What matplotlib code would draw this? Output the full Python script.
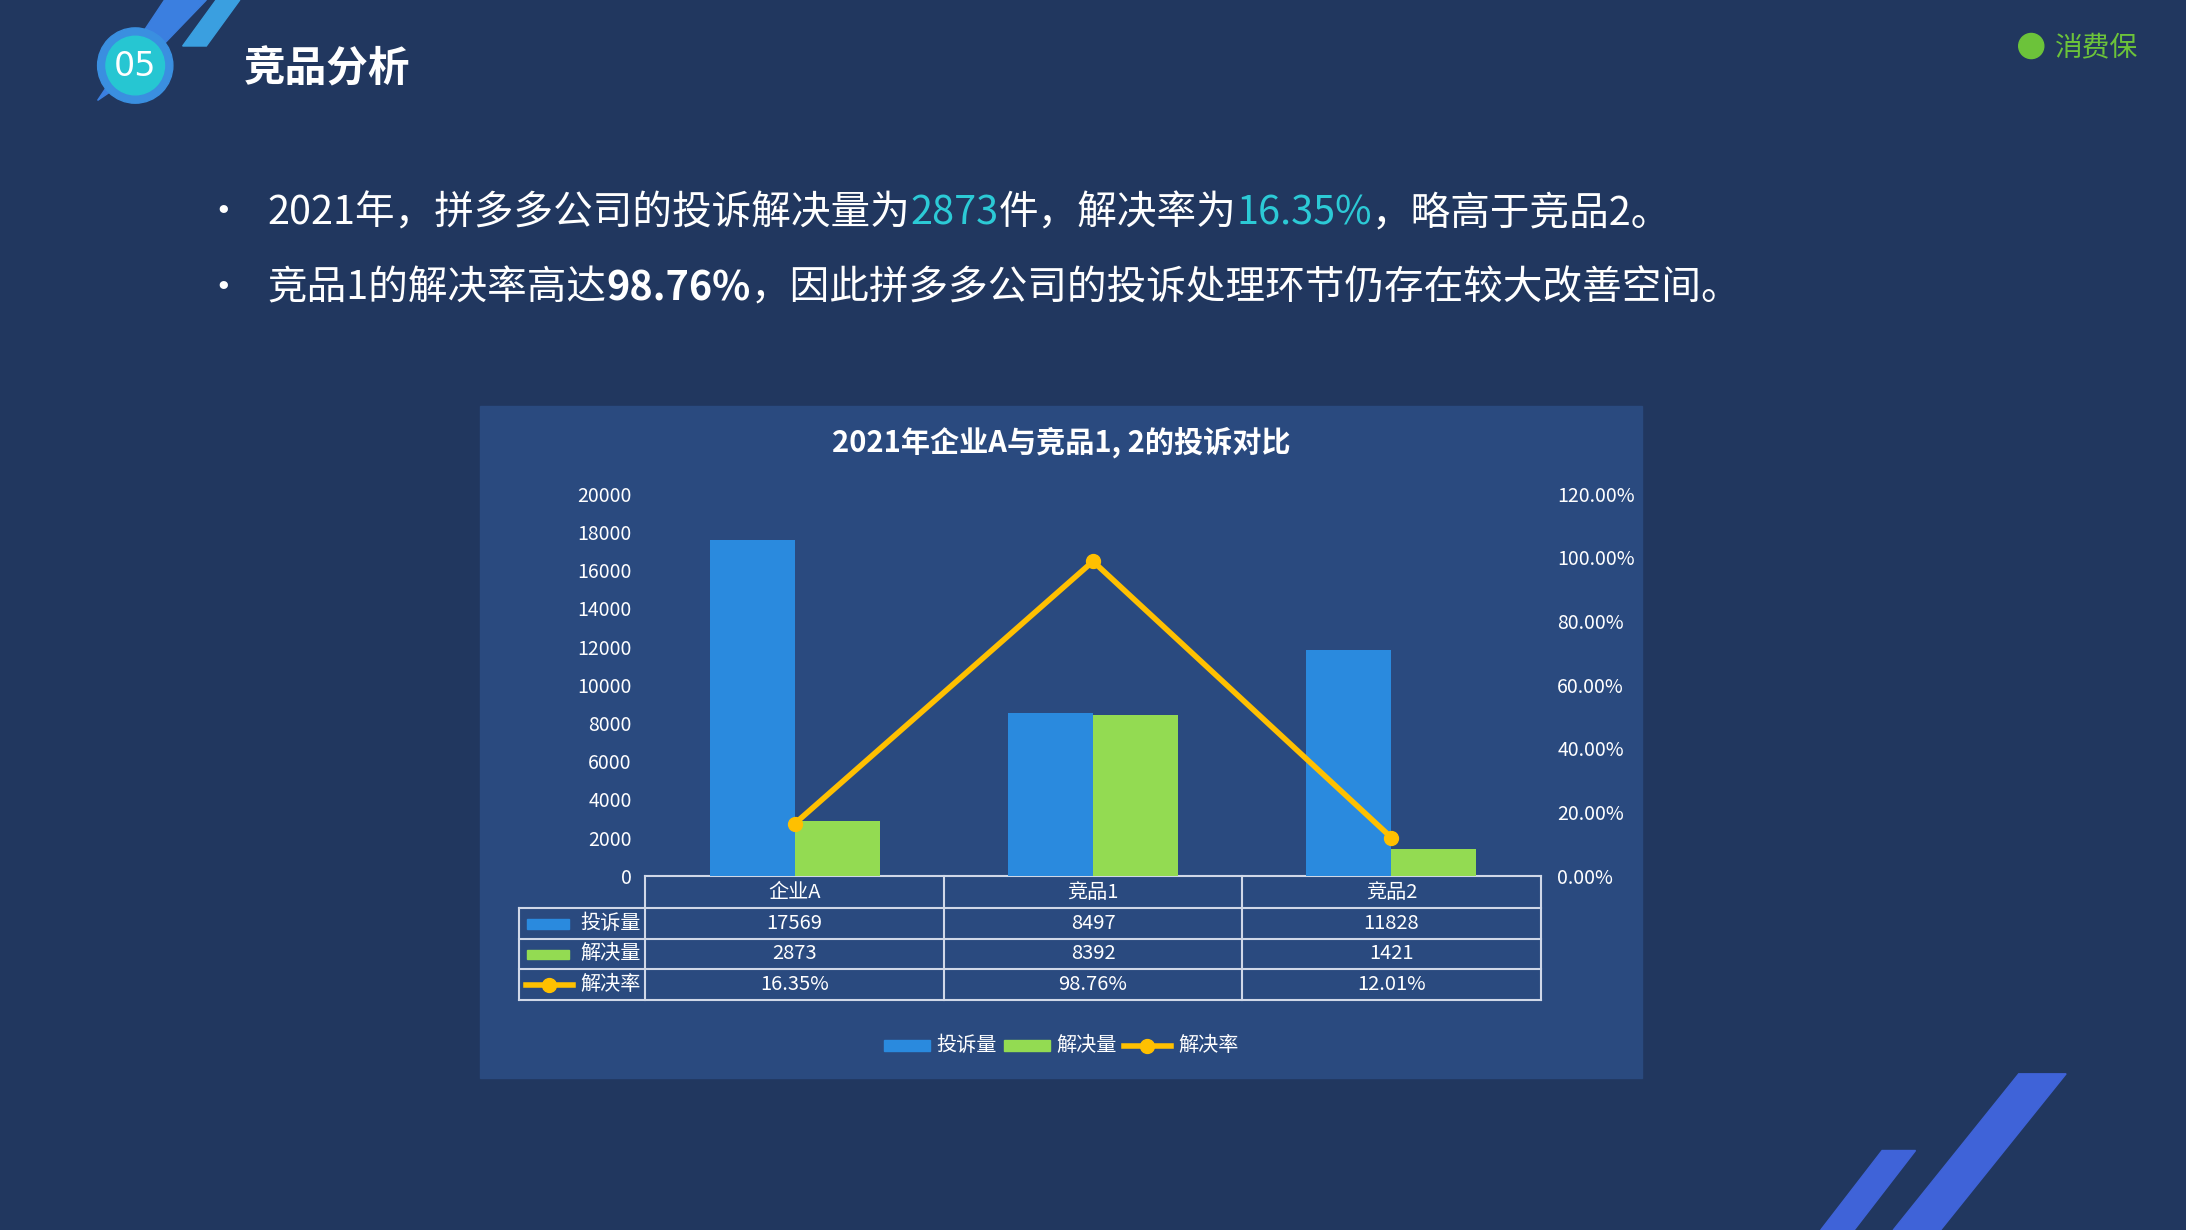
import matplotlib.pyplot as plt
from matplotlib.patches import Rectangle, Polygon, Circle
import numpy as np

plt.rcParams['font.family'] = ['Noto Sans CJK SC', 'DejaVu Sans']

categories = ['企业A', '竞品1', '竞品2']
complaints = [17569, 8497, 11828]
resolved = [2873, 8392, 1421]
rate = [16.35, 98.76, 12.01]
series_names = ['投诉量', '解决量', '解决率']
left_ticks = [0, 2000, 4000, 6000, 8000, 10000, 12000, 14000, 16000, 18000, 20000]
right_ticks = [0, 20, 40, 60, 80, 100, 120]

BG = '#21375f'
PANEL = '#2a4a7f'
BLUE = '#2a8ade'
GREEN = '#93db52'
GOLD = '#ffc000'
W, H = 1568, 882

fig = plt.figure(figsize=(21.86, 12.30), dpi=100, facecolor=BG)
deco = fig.add_axes([0, 0, 1, 1])
deco.set_xlim(0, W)
deco.set_ylim(H, 0)
deco.axis('off')

# header decorations
deco.add_patch(Polygon([[118, 0], [148, 0], [95, 55], [70, 72]], color='#3b7fe0'))
deco.add_patch(Polygon([[155, 0], [172, 0], [148, 33], [131, 33]], color='#3a9fe0'))
deco.add_patch(Circle((97, 47), 27, color='#3a8fe0'))
deco.add_patch(Circle((97, 47), 21, color='#26c6d2'))
deco.text(97, 48, '05', color='white', fontsize=24, ha='center', va='center', family='DejaVu Sans')
deco.text(175, 50, '竞品分析', color='white', fontsize=30, fontweight='bold', va='center')
deco.add_patch(Circle((1457, 33), 9, color='#6cc33a'))
deco.text(1474, 34, '消费保', color='#6cc33a', fontsize=20, va='center')

# bottom right stripes
deco.add_patch(Polygon([[1448, 770], [1482, 770], [1392, 882], [1358, 882]], color='#3f63d8'))
deco.add_patch(Polygon([[1350, 825], [1374, 825], [1330, 882], [1306, 882]], color='#3f63d8'))

# bullets
bfs = 28.5
deco.text(160, 153, '•', color='white', fontsize=bfs, va='center', ha='center')
deco.text(160, 207, '•', color='white', fontsize=bfs, va='center', ha='center')
fig.canvas.draw()
r = fig.canvas.get_renderer()


def run_text(y, parts):
    x = 192
    for s, c, wt in parts:
        t = deco.text(x, y, s, color=c, fontsize=bfs, va='center', fontweight=wt)
        x += t.get_window_extent(r).width * W / fig.bbox.width


run_text(153, [('2021年，拼多多公司的投诉解决量为', 'white', 'normal'), ('2873', '#2ccad6', 'normal'),
               ('件，解决率为', 'white', 'normal'), ('16.35%', '#2ccad6', 'normal'),
               ('，略高于竞品2。', 'white', 'normal')])
run_text(207, [('竞品1的解决率高达', 'white', 'normal'), ('98.76%', 'white', 'bold'),
               ('，因此拼多多公司的投诉处理环节仍存在较大改善空间。', 'white', 'normal')])

# chart panel
deco.add_patch(Rectangle((344, 291), 834, 482, color=PANEL))
deco.text(761, 317, '2021年企业A与竞品1, 2的投诉对比', color='white', fontsize=21,
          fontweight='bold', ha='center', va='center')

ax = fig.add_axes([463 / W, 1 - 628 / H, (1105 - 463) / W, (628 - 354) / H])
ax.set_facecolor('none')
xs = np.arange(len(categories))
bw = 61 / 214
ax.bar(xs - bw / 2, complaints, bw, color=BLUE)
ax.bar(xs + bw / 2, resolved, bw, color=GREEN)
ax.set_xlim(-0.5, 2.5)
ax.set_ylim(0, 20000)
ax.set_yticks(left_ticks)
ax.set_xticks([])
for s in ax.spines.values():
    s.set_visible(False)
ax.tick_params(axis='y', length=0, colors='white', labelsize=14, pad=10)
ax2 = ax.twinx()
ax2.plot(xs, rate, color=GOLD, lw=4, marker='o', ms=10)
ax2.set_ylim(0, 120)
ax2.set_yticks(right_ticks)
ax2.set_yticklabels([f'{v:.2f}%' for v in right_ticks])
for s in ax2.spines.values():
    s.set_visible(False)
ax2.tick_params(axis='y', length=0, colors='white', labelsize=14, pad=12)

# data table
lc = '#d0d8e8'
rows_y = [628, 651, 673, 695, 717]
cols_x = [463, 677, 891, 1105]
deco.plot([463, 1105], [628, 628], color=lc, lw=1.5)
for y in rows_y[1:]:
    deco.plot([372, 1105], [y, y], color=lc, lw=1.5)
deco.plot([372, 372], [651, 717], color=lc, lw=1.5)
for cx in cols_x:
    deco.plot([cx, cx], [628, 717], color=lc, lw=1.5)
tfs = 14.5
for i, c in enumerate(categories):
    cx = (cols_x[i] + cols_x[i + 1]) / 2
    deco.text(cx, 640, c, color='white', fontsize=tfs, ha='center', va='center')
    deco.text(cx, 662, str(complaints[i]), color='white', fontsize=tfs, ha='center', va='center')
    deco.text(cx, 684, str(resolved[i]), color='white', fontsize=tfs, ha='center', va='center')
    deco.text(cx, 706, f'{rate[i]:.2f}%', color='white', fontsize=tfs, ha='center', va='center')
deco.add_patch(Rectangle((378, 659), 30, 7, color=BLUE))
deco.add_patch(Rectangle((378, 681), 30, 7, color=GREEN))
deco.plot([377, 411], [706, 706], color=GOLD, lw=4)
deco.plot([394], [706], 'o', color=GOLD, ms=10)
for j, nm in enumerate(series_names):
    deco.text(416, 662 + 22 * j, nm, color='white', fontsize=tfs, va='center')

# legend
deco.add_patch(Rectangle((634, 746), 33, 8, color=BLUE))
deco.text(672, 750, series_names[0], color='white', fontsize=tfs, va='center')
deco.add_patch(Rectangle((720, 746), 33, 8, color=GREEN))
deco.text(758, 750, series_names[1], color='white', fontsize=tfs, va='center')
deco.plot([806, 840], [750, 750], color=GOLD, lw=4)
deco.plot([823], [750], 'o', color=GOLD, ms=10)
deco.text(845, 750, series_names[2], color='white', fontsize=tfs, va='center')

fig.savefig('out.png', dpi=100, facecolor=BG)
